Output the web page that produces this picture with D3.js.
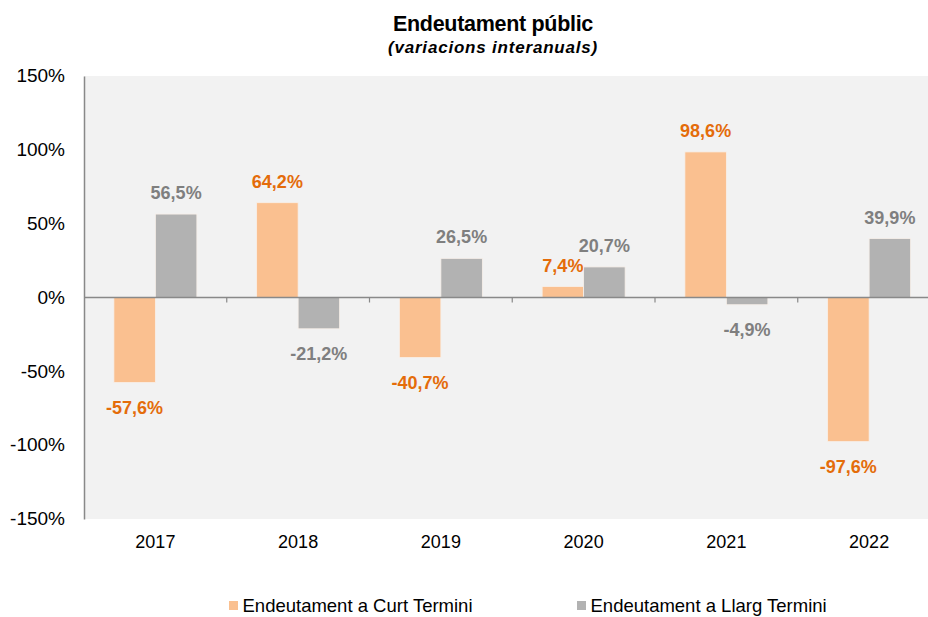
<!DOCTYPE html>
<html><head><meta charset="utf-8">
<script src="https://cdn.jsdelivr.net/npm/d3@7"></script>
<style>body{margin:0;background:#fff;}svg{display:block;font-family:"Liberation Sans",Arial,sans-serif;}</style>
</head><body>
<svg id="c" width="928" height="617"></svg>
<script>
const years = ["2017","2018","2019","2020","2021","2022"];
const curt = [-57.6, 64.2, -40.7, 7.4, 98.6, -97.6];
const llarg = [56.5, -21.2, 26.5, 20.7, -4.9, 39.9];
const yTicks = [150, 100, 50, 0, -50, -100, -150];
const seriesNames = ["Endeutament a Curt Termini", "Endeutament a Llarg Termini"];

(function(){
const svg = d3.select("#c");
const pL = 84, pR = 940.5, pT = 76, pB = 519;
const x = d3.scaleBand().domain(years).range([pL, pR]);
const inner = d3.scaleBand().domain([0,1]).range([0, x.bandwidth()]).paddingInner(0).paddingOuter(0.72);
const y = d3.scaleLinear().domain([-150,150]).range([pB, pT]);
const fmt = v => (v < 0 ? "-" : "") + d3.format(".1f")(Math.abs(v)).replace(".", ",") + "%";
const fills = ["#fac090", "#b2b2b2"];
const labelColors = ["#e46c0a", "#7f7f7f"];

svg.append("rect").attr("x", pL).attr("y", pT).attr("width", pR-pL).attr("height", pB-pT).attr("fill", "#f2f2f2");

const series = [curt, llarg];
series.forEach((vals, si) => {
  const g = svg.append("g");
  g.selectAll("rect").data(vals).join("rect")
    .attr("x", (d,i) => x(years[i]) + inner(si))
    .attr("width", inner.bandwidth())
    .attr("y", d => y(Math.max(0,d)))
    .attr("height", d => Math.abs(y(d)-y(0)))
    .attr("fill", fills[si])
    .attr("stroke", "#f8f0ea").attr("stroke-width", 0.8);
  g.selectAll("text").data(vals).join("text")
    .attr("x", (d,i) => x(years[i]) + inner(si) + inner.bandwidth()/2)
    .attr("y", d => d >= 0 ? y(d) - 15 : y(d) + 31)
    .attr("text-anchor", "middle")
    .attr("font-size", 18).attr("font-weight", "bold")
    .attr("fill", labelColors[si])
    .text(d => fmt(d));
});

const zx = svg.append("g").attr("transform", `translate(0,${y(0)})`)
  .call(d3.axisBottom(x).tickSize(0).tickFormat(""));
zx.select(".domain").attr("stroke", "#898989").attr("stroke-width", 1.5).attr("d", `M${pL},0H${pR}`);
x.domain().slice(1).forEach(d => {
  zx.append("line").attr("x1", x(d)).attr("x2", x(d)).attr("y1", 0).attr("y2", 5).attr("stroke", "#898989").attr("stroke-width", 1.2);
});

const ya = svg.append("g").attr("transform", `translate(${pL},0)`)
  .call(d3.axisLeft(y).tickValues(yTicks).tickSize(0).tickPadding(19).tickFormat(d => (d < 0 ? "-" : "") + Math.abs(d) + "%"));
ya.select(".domain").attr("stroke", "#898989").attr("stroke-width", 1.5);
ya.selectAll("text").attr("font-size", 19).attr("fill", "#000").attr("dy", "0.3em").attr("font-family", "Liberation Sans, Arial, sans-serif");

svg.append("g").selectAll("text").data(years).join("text")
  .attr("x", d => x(d) + x.bandwidth()/2).attr("y", 548)
  .attr("text-anchor", "middle").attr("font-size", 18).attr("fill", "#000")
  .text(d => d);

svg.append("text").attr("x", 493).attr("y", 31).attr("text-anchor", "middle")
  .attr("font-size", 21.5).attr("font-weight", "bold").attr("letter-spacing", "-0.3").text("Endeutament públic");
svg.append("text").attr("x", 493).attr("y", 53).attr("text-anchor", "middle")
  .attr("font-size", 17).attr("font-weight", "bold").attr("font-style", "italic").attr("letter-spacing", "0.8").text("(variacions interanuals)");

const legX = [229, 577];
seriesNames.forEach((n, i) => {
  svg.append("rect").attr("x", legX[i]).attr("y", 601).attr("width", 9).attr("height", 9).attr("fill", fills[i]);
  svg.append("text").attr("x", legX[i] + 13.5).attr("y", 612).attr("font-size", 18.5).attr("fill", "#000").text(n);
});
})();
</script>
</body></html>
